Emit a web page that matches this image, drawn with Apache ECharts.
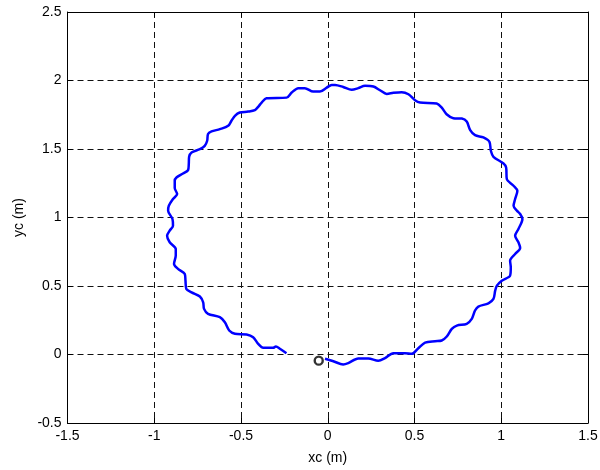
<!DOCTYPE html>
<html>
<head>
<meta charset="utf-8">
<script src="https://cdn.jsdelivr.net/npm/echarts@6/dist/echarts.min.js"></script>
<style>
html,body{margin:0;padding:0;background:#fff;}
#c{width:600px;height:470px;}
</style>
</head>
<body>
<div id="c"></div>
<script>
// trajectory x (m)
const xc = [-0.016,0.032,0.089,0.118,0.176,0.234,0.291,0.330,0.378,0.445,0.484,0.522,0.561,0.619,0.657,0.686,0.715,0.744,0.801,0.830,0.849,0.868,0.926,0.955,0.965,0.975,1.003,1.051,1.055,1.051,1.080,1.109,1.099,1.080,1.099,1.122,1.109,1.090,1.071,1.080,1.093,1.071,1.032,1.028,1.013,0.955,0.940,0.932,0.897,0.849,0.821,0.801,0.773,0.724,0.685,0.657,0.628,0.532,0.503,0.465,0.426,0.378,0.340,0.301,0.263,0.215,0.176,0.138,0.089,0.042,0.023,-0.006,-0.045,-0.084,-0.132,-0.170,-0.208,-0.237,-0.353,-0.381,-0.401,-0.420,-0.459,-0.507,-0.535,-0.555,-0.574,-0.622,-0.670,-0.690,-0.695,-0.709,-0.737,-0.785,-0.799,-0.801,-0.805,-0.834,-0.872,-0.882,-0.882,-0.868,-0.892,-0.916,-0.920,-0.895,-0.892,-0.911,-0.926,-0.911,-0.876,-0.876,-0.886,-0.863,-0.824,-0.820,-0.815,-0.785,-0.737,-0.718,-0.713,-0.690,-0.622,-0.593,-0.568,-0.535,-0.468,-0.430,-0.401,-0.372,-0.314,-0.299,-0.276,-0.238];
// trajectory y (m)
const yc = [-0.031,-0.049,-0.073,-0.063,-0.029,-0.029,-0.046,-0.027,0.009,0.009,0.005,0.046,0.087,0.097,0.102,0.131,0.187,0.211,0.224,0.260,0.321,0.350,0.374,0.406,0.466,0.503,0.539,0.576,0.636,0.685,0.734,0.778,0.819,0.867,0.916,0.989,1.026,1.050,1.086,1.135,1.195,1.232,1.281,1.365,1.394,1.443,1.487,1.552,1.584,1.601,1.638,1.700,1.722,1.725,1.754,1.802,1.832,1.839,1.856,1.900,1.915,1.910,1.902,1.929,1.956,1.961,1.944,1.932,1.953,1.968,1.968,1.948,1.919,1.919,1.944,1.944,1.912,1.875,1.871,1.839,1.808,1.784,1.773,1.766,1.742,1.706,1.669,1.645,1.628,1.609,1.560,1.523,1.499,1.475,1.443,1.390,1.346,1.321,1.292,1.268,1.215,1.171,1.135,1.086,1.050,0.989,0.940,0.904,0.867,0.819,0.770,0.722,0.661,0.625,0.588,0.539,0.479,0.454,0.423,0.381,0.333,0.297,0.272,0.235,0.175,0.151,0.146,0.126,0.078,0.049,0.049,0.058,0.042,0.009];
// start marker
const markerX = [-0.052];
const markerY = [-0.045];
// axis settings
const xTicks = [-1.5,-1,-0.5,0,0.5,1,1.5];
const yTicks = [-0.5,0,0.5,1,1.5,2,2.5];

const font = '"Liberation Sans", Arial, Helvetica, sans-serif';
const chart = echarts.init(document.getElementById('c'), null, {renderer:'canvas'});
const lineData = xc.map((x,i)=>[x,yc[i]]);
const markData = markerX.map((x,i)=>[x,markerY[i]]);
const grid = {left:67.5,right:12,top:12,bottom:47,outerBoundsMode:'none',containLabel:false};
const dashed = {show:true,lineStyle:{color:'#111',type:[6,4],width:1}};
const axisBase = {
  axisLine:{show:true,onZero:false,lineStyle:{color:'#000',width:1}},
  axisTick:{show:true,inside:true,length:5,lineStyle:{color:'#000'}},
};
chart.setOption({
  animation:false,
  backgroundColor:'#fff',
  grid:grid,
  xAxis:[
    Object.assign({type:'value',min:xTicks[0],max:xTicks[xTicks.length-1],interval:0.5,position:'bottom',
      name:'xc (m)',nameLocation:'middle',nameGap:28,
      nameTextStyle:{fontFamily:font,fontSize:14,color:'#000'},
      axisLabel:{fontFamily:font,fontSize:14,color:'#000',margin:6},
      splitLine:dashed},axisBase),
    Object.assign({type:'value',min:xTicks[0],max:xTicks[xTicks.length-1],interval:0.5,position:'top',
      axisLabel:{show:false},splitLine:{show:false}},axisBase)
  ],
  yAxis:[
    Object.assign({type:'value',min:yTicks[0],max:yTicks[yTicks.length-1],interval:0.5,position:'left',
      name:'yc (m)',nameLocation:'middle',nameGap:38,nameRotate:90,
      nameTextStyle:{fontFamily:font,fontSize:14,color:'#000'},
      axisLabel:{fontFamily:font,fontSize:14,color:'#000',margin:6},
      splitLine:dashed},axisBase),
    Object.assign({type:'value',min:yTicks[0],max:yTicks[yTicks.length-1],interval:0.5,position:'right',
      axisLabel:{show:false},splitLine:{show:false}},axisBase)
  ],
  series:[
    {type:'line',data:lineData,showSymbol:false,symbol:'none',smooth:0.3,
     lineStyle:{color:'#0000ff',width:2.5},xAxisIndex:0,yAxisIndex:0,z:3},
    {type:'scatter',data:markData,symbol:'circle',symbolSize:8,
     itemStyle:{color:'rgba(0,0,0,0)',borderColor:'#000',borderWidth:2.4},xAxisIndex:0,yAxisIndex:0,z:4}
  ]
});
</script>
</body>
</html>
